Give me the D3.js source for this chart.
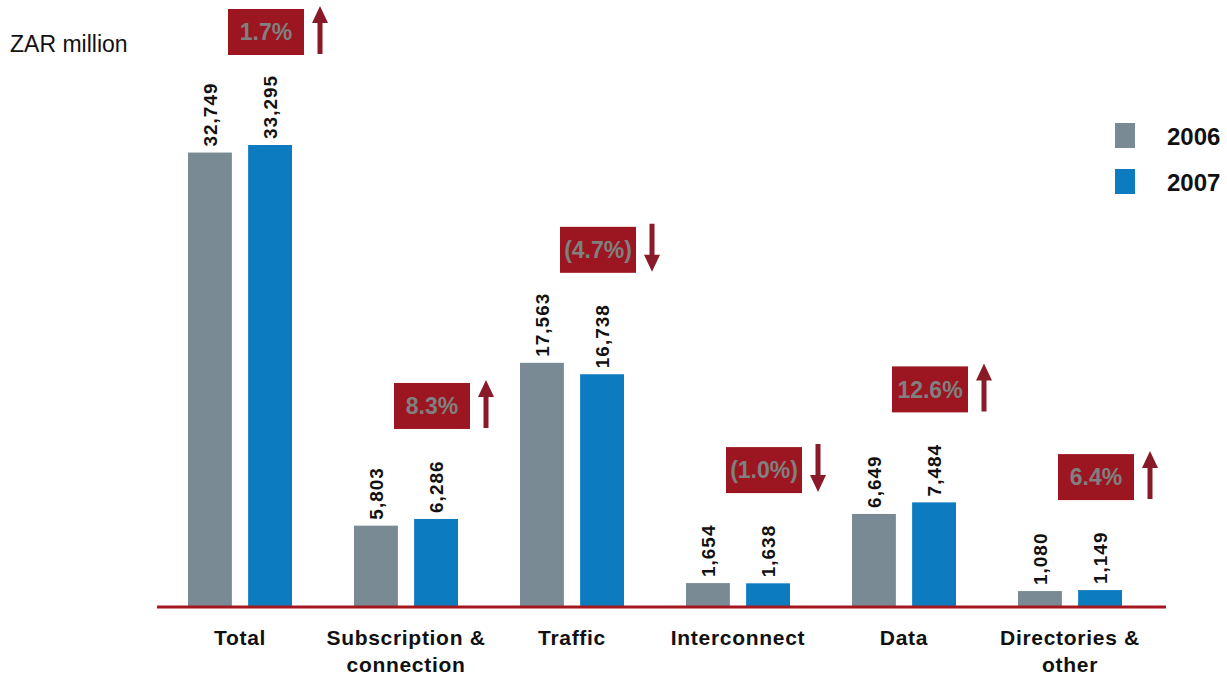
<!DOCTYPE html>
<html>
<head>
<meta charset="utf-8">
<script src="https://cdn.jsdelivr.net/npm/d3@7"></script>
<style>
  html, body { margin: 0; padding: 0; background: #ffffff; }
  svg { display: block; }
</style>
</head>
<body>
<svg id="chart" width="1227" height="679"></svg>
<script>
// Revenue by segment, ZAR million
const categories = ["Total", "Subscription & connection", "Traffic", "Interconnect", "Data", "Directories & other"];
const categoryLines = [["Total"], ["Subscription &", "connection"], ["Traffic"], ["Interconnect"], ["Data"], ["Directories &", "other"]];
const years = ["2006", "2007"];
const values2006 = [32749, 5803, 17563, 1654, 6649, 1080];
const values2007 = [33295, 6286, 16738, 1638, 7484, 1149];
const changeLabels = ["1.7%", "8.3%", "(4.7%)", "(1.0%)", "12.6%", "6.4%"];
const changeDirection = ["up", "up", "down", "down", "up", "up"];

const colors = { "2006": "#7a8a94", "2007": "#0c7bbf" };
const boxRed = "#9c1622";
const arrowRed = "#8a1a28";
const axisRed = "#a3191f";

const svg = d3.select("#chart");
const baseline = 606;

const x = d3.scaleBand().domain(categories).range([157, 1153]).paddingInner(0).paddingOuter(0);
const sub = d3.scaleBand().domain(years).range([-52, 52]).paddingInner(0.27).paddingOuter(0);
const y = d3.scaleLinear().domain([0, 33295]).range([baseline, baseline - 461]);

const rows = categories.map((c, i) => ({
  cat: c, i,
  vals: [{ year: "2006", v: values2006[i] }, { year: "2007", v: values2007[i] }]
}));

// Bars
const groups = svg.selectAll("g.grp").data(rows).join("g")
  .attr("class", "grp")
  .attr("transform", d => `translate(${x(d.cat) + x.bandwidth() / 2},0)`);

groups.selectAll("rect").data(d => d.vals).join("rect")
  .attr("x", d => sub(d.year))
  .attr("width", sub.bandwidth())
  .attr("y", d => y(d.v))
  .attr("height", d => baseline - y(d.v))
  .attr("fill", d => colors[d.year]);

// Vertical value labels above each bar
groups.selectAll("text.val").data(d => d.vals).join("text")
  .attr("class", "val")
  .attr("transform", d => `translate(${sub(d.year) + sub.bandwidth() / 2},${y(d.v) - 6}) rotate(-90)`)
  .attr("dy", "0.36em")
  .attr("text-anchor", "start")
  .attr("font-family", "Liberation Sans, Arial, sans-serif")
  .attr("font-weight", "bold")
  .attr("font-size", 19)
  .attr("letter-spacing", 1)
  .attr("fill", "#111")
  .text(d => d3.format(",")(d.v));

// Baseline
svg.append("line")
  .attr("x1", 157).attr("x2", 1166)
  .attr("y1", baseline + 1).attr("y2", baseline + 1)
  .attr("stroke", axisRed).attr("stroke-width", 3);

// Category labels
groups.each(function (d) {
  const t = d3.select(this).append("text")
    .attr("text-anchor", "middle")
    .attr("font-family", "Liberation Sans, Arial, sans-serif")
    .attr("font-weight", "bold")
    .attr("font-size", 21)
    .attr("letter-spacing", 0.7)
    .attr("fill", "#111");
  categoryLines[d.i].forEach((line, k) => {
    t.append("tspan").attr("x", 0).attr("y", 645 + k * 27).text(line);
  });
});

// Year-on-year change boxes with arrows
const boxW = 76, boxH = 46;
groups.each(function (d) {
  const g = d3.select(this);
  const top = y(d3.max(d.vals, v => v.v)) - 136;
  g.append("rect")
    .attr("x", -12).attr("y", top)
    .attr("width", boxW).attr("height", boxH)
    .attr("fill", boxRed);
  g.append("text")
    .attr("x", -12 + boxW / 2).attr("y", top + boxH / 2)
    .attr("dy", "0.36em")
    .attr("text-anchor", "middle")
    .attr("font-family", "Liberation Sans, Arial, sans-serif")
    .attr("font-weight", "bold")
    .attr("font-size", 23)
    .attr("fill", "#808080")
    .text(changeLabels[d.i]);

  const ax = -12 + boxW + 16;
  const y0 = top - 3, y1 = top + boxH - 1;
  const up = changeDirection[d.i] === "up";
  const tip = up ? y0 : y1;
  const tail = up ? y1 : y0;
  const headLen = 17, headHalf = 8, shaft = 2.5;
  const headBase = up ? tip + headLen : tip - headLen;
  g.append("path")
    .attr("d", `M${ax - shaft},${tail} L${ax - shaft},${headBase} L${ax - headHalf},${headBase} L${ax},${tip} L${ax + headHalf},${headBase} L${ax + shaft},${headBase} L${ax + shaft},${tail} Z`)
    .attr("fill", arrowRed);
});

// Unit label
svg.append("text")
  .attr("x", 10).attr("y", 52)
  .attr("font-family", "Liberation Sans, Arial, sans-serif")
  .attr("font-size", 23)
  .attr("fill", "#111")
  .text("ZAR million");

// Legend
const legend = svg.selectAll("g.leg").data(years).join("g")
  .attr("class", "leg")
  .attr("transform", (d, i) => `translate(1115,${123 + i * 46})`);
legend.append("rect").attr("width", 20).attr("height", 25).attr("fill", d => colors[d]);
legend.append("text")
  .attr("x", 52).attr("y", 22)
  .attr("font-family", "Liberation Sans, Arial, sans-serif")
  .attr("font-weight", "bold")
  .attr("font-size", 24)
  .attr("fill", "#111")
  .text(d => d);
</script>
</body>
</html>
